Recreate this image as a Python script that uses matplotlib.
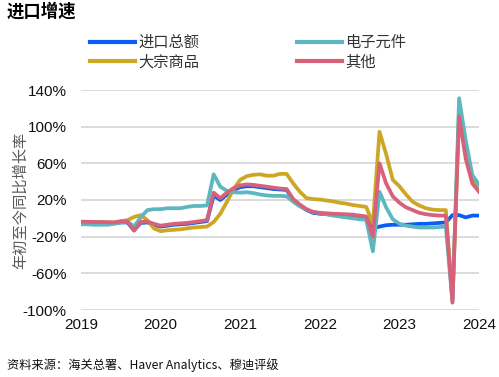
import matplotlib
matplotlib.use("Agg")
import matplotlib.pyplot as plt
import numpy as np

# monthly, Jan 2019 .. Jan 2024 (year-to-date growth, %)
years = ["2019", "2020", "2021", "2022", "2023", "2024"]
total = [-4.5, -4.8, -5, -5, -5.2, -5.5, -4.5, -4.5, -13, -5,
         -4.5, -7, -9, -8, -7, -6.5, -6, -5, -4, -3,
         25, 20, 26, 31, 34, 35, 35, 34, 33, 32,
         31.5, 31, 20, 14, 9, 6, 5, 4.5, 4, 3.5,
         3, 2.5, 2, 1, -11, -9, -7.5, -7, -7, -7,
         -6.5, -6, -6, -5.5, -5, -4.5, 3.5, 3.5, 1, 3, 3]
electronics = [-6.5, -6.5, -7, -7, -7, -6, -4.5, -3.5, -9, 1,
               9, 10, 10, 11, 11, 11, 12.5, 13.5, 13.5, 14,
               48, 34.5, 30, 28.5, 28, 28.5, 27.5, 26, 25, 24.5,
               24.5, 24, 18, 13, 9.5, 7, 5.5, 4.5, 3, 2,
               1, 0, -1, -1.5, -36, 29, 12, -1, -6, -8,
               -9, -10, -10, -10, -9.5, -9, -91, 131, 85, 47, 37]
commodities = [-4, -4, -4, -4.3, -4.5, -4.5, -3, -2, 1.5, 3.5,
               -2, -11, -14, -13, -12.5, -12, -11, -10, -9.5, -9,
               -4, 5, 18, 32, 42, 46, 47.5, 48, 46.5, 46.5,
               48.5, 48.5, 38, 29, 22, 21, 20.5, 19.5, 18.5, 17,
               16, 14.5, 13.5, 12.5, -6, 94.5, 70, 42, 35, 26,
               18, 14, 11, 9.5, 9, 9, -88, 116, 70, 42, 32]
other = [-3.6, -3.8, -4, -4, -4.2, -4.5, -3.5, -3.5, -13.5, -4,
         -3.5, -6, -8, -7, -6, -5.5, -5, -4, -3, -2,
         28, 22, 28, 33, 36, 37, 36.5, 35.5, 34.5, 33.5,
         32.5, 32, 21, 15, 10, 7, 6, 5.5, 5, 4.7,
         4.4, 4, 3, 2, -20, 60, 38, 24, 17, 12,
         9, 6, 4.5, 3.5, 3, 3, -92, 111, 65, 38, 29]

labels = ["进口总额", "电子元件", "大宗商品", "其他"]
colors = ["#0A5EF5", "#5CB8BE", "#CBA724", "#D8617A"]

cjk = ["Noto Sans CJK SC", "Liberation Sans", "DejaVu Sans"]
plt.rcParams['font.family'] = ["Liberation Sans", "Noto Sans CJK SC", "DejaVu Sans"]

W, H = 499, 377
fig = plt.figure(figsize=(W / 100, H / 100), dpi=100)
ax = fig.add_axes([81 / W, 1 - 310 / H, 398 / W, 220 / H])

x = np.arange(len(total))
l_total, = ax.plot(x, total, color=colors[0], lw=2.7, zorder=3)
l_comm, = ax.plot(x, commodities, color=colors[2], lw=2.7, zorder=4)
l_elec, = ax.plot(x, electronics, color=colors[1], lw=2.7, zorder=5)
l_oth, = ax.plot(x, other, color=colors[3], lw=2.7, zorder=6)

ax.set_xlim(0, 60)
ax.set_ylim(-100, 140)
ax.set_yticks(np.arange(-100, 141, 40))
ax.set_yticklabels(["%d%%" % v for v in np.arange(-100, 141, 40)], fontsize=11)
ax.set_xticks(np.arange(0, 61, 12))
ax.set_xticklabels(years, fontsize=11)
ax.tick_params(axis='both', length=0, colors='#111111')
ax.tick_params(axis='y', pad=10.5)
ax.tick_params(axis='x', pad=6)
ax.yaxis.grid(color='#d9d9d9', linewidth=1.3)
ax.set_axisbelow(True)
for s in ax.spines.values():
    s.set_visible(False)

fig.text(20 / W, 1 - 200 / H, "年初至今同比增长率", rotation=90, ha='center', va='center',
         fontsize=11, color='#595959', family=cjk)

fig.text(7 / W, 1 - 12 / H, "进口增速", fontsize=12.5, fontweight='bold', ha='left', va='center',
         family=cjk)
fig.text(7 / W, 1 - 365 / H, "资料来源：海关总署、Haver Analytics、穆迪评级", fontsize=8.8,
         ha='left', va='center', family=cjk, color='#111111')

leg_kw = dict(frameon=False, handlelength=2.95, handletextpad=0.2,
              labelspacing=0.15, borderpad=0, borderaxespad=0, loc='upper left',
              prop={'family': cjk, 'size': 11}, labelcolor='#333333')
leg1 = fig.legend([l_total, l_comm], [labels[0], labels[2]],
                  bbox_to_anchor=(90 / W, 1 - 34 / H), **leg_kw)
leg2 = fig.legend([l_elec, l_oth], [labels[1], labels[3]],
                  bbox_to_anchor=(297 / W, 1 - 34 / H), **leg_kw)
for leg in (leg1, leg2):
    for h in leg.get_lines():
        h.set_linewidth(3)

fig.savefig("out.png", dpi=100)
